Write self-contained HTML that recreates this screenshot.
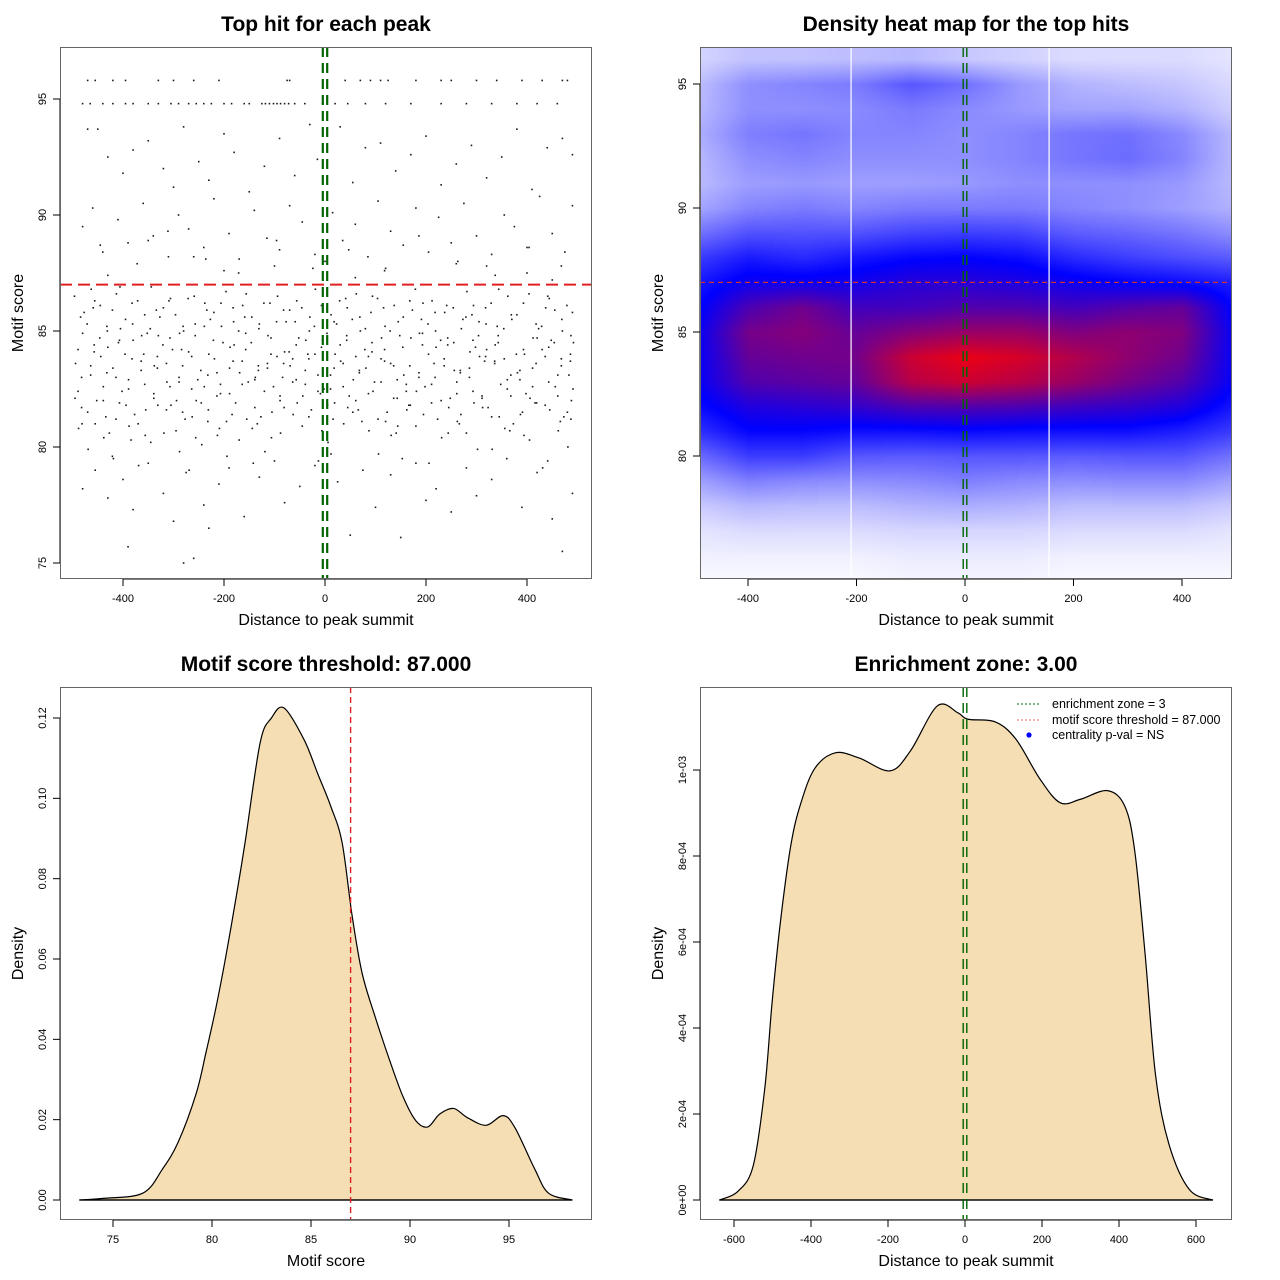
<!DOCTYPE html>
<html><head><meta charset="utf-8"><style>
body{margin:0;background:#fff;width:1280px;height:1280px;position:relative;overflow:hidden;font-family:"Liberation Sans",sans-serif}
#heat{position:absolute;left:700px;top:47px;width:532px;height:532px}
#main{position:absolute;left:0;top:0}
</style></head><body>
<canvas id="heat" width="532" height="532"></canvas>
<svg id="main" width="1280" height="1280" xmlns="http://www.w3.org/2000/svg"></svg>
<script>
// ---------- data ----------
const rowX948=[-480,-465,-440,-420,-395,-380,-350,-330,-305,-290,-270,-255,-240,-225,-200,-185,-160,-150,-125,-118,-110,-102,-95,-88,-80,-72,-60,-40,-5,20,45,80,120,170,230,280,330,380,420,460];
const rowX958=[-470,-455,-420,-395,-330,-300,-260,-210,-75,-70,40,70,90,110,125,180,230,250,300,340,390,430,470,480];
const scatterX=[-470,-450,-430,-400,-380,-350,-320,-300,-280,-250,-230,-200,-180,-150,-120,-90,-60,-30,-15,30,55,80,110,140,170,200,230,260,290,320,350,380,410,440,470,490,
-480,-460,-440,-410,-390,-360,-340,-310,-290,-270,-240,-220,-190,-170,-140,-115,-90,-70,-45,-20,15,35,60,85,105,130,155,180,205,225,250,275,300,330,355,375,400,425,450,475,490,-350,-200,-100,0,120,260,400,-430,-260,60,320,450,
-480,-455,-430,-400,-380,-350,-320,-300,-275,-260,-240,-210,-190,-160,-130,-100,-80,-50,-20,-5,25,50,75,100,130,150,180,200,220,250,280,300,330,360,390,420,450,470,490,-390,-280,-230,
-445,-372,-311,-236,-171,-96,-24,47,118,186,263,337,404,468,-421,-288,-142,12,153,302,441];
const scatterY=[93.7,93.7,92.5,91.8,92.8,93.2,92.0,91.2,93.8,92.3,91.5,93.5,92.7,91.0,92.1,93.3,91.7,93.9,92.4,93.8,91.4,92.9,93.1,91.9,92.6,93.4,91.3,92.2,93.0,91.6,92.5,93.7,91.1,92.9,93.3,92.6,
89.5,90.3,88.4,89.8,88.8,90.5,89.1,88.2,90.0,89.4,88.6,90.7,89.2,88.1,90.2,89.0,88.5,90.4,89.7,88.3,90.1,88.9,89.6,88.2,90.6,89.3,88.7,90.3,88.4,89.9,88.8,90.5,89.1,88.3,90.0,89.5,88.6,90.8,89.2,88.4,90.4,88.9,87.6,87.8,88.0,87.7,87.9,87.5,87.4,88.2,87.3,87.8,87.2,
78.2,79.0,77.8,78.6,77.3,79.3,78.0,76.8,78.9,75.2,77.5,78.4,79.1,77.0,78.7,79.4,77.6,78.3,79.2,77.9,78.5,76.2,79.0,77.4,78.8,76.1,79.3,77.7,78.2,77.2,79.1,77.9,78.6,79.5,77.4,78.9,76.9,75.5,78.0,75.7,75.0,76.5,
88.7,87.9,89.3,88.1,87.5,88.9,87.7,88.5,87.6,89.1,88.0,87.4,88.6,87.8,79.6,79.8,79.3,79.7,79.5,79.9,79.4];
const coreColX=[-490,-465,-440,-415,-390,-365,-340,-315,-290,-265,-240,-215,-190,-165,-140,-115,-90,-65,-40,-15,10,35,60,85,110,135,160,185,210,235,260,285,310,335,360,385,410,435,460,485];
const coreColY=[[86.5,84.2,82.1,80.8,83.6],[85.3,83.1,81.5,86.8,79.9],[84.7,82.6,86.1,80.4,83.9],[85.9,81.2,83.4,86.6,79.5],[84.0,82.9,85.5,80.9,81.8],[86.3,83.7,81.0,84.8,79.2],[85.1,82.3,80.2,83.5,86.9],[84.4,81.6,86.0,82.8,80.6],[85.7,83.0,80.7,84.9,82.0],[86.4,82.5,84.1,81.3,79.0],[83.3,85.2,81.9,86.2,80.1],[84.6,82.2,85.8,80.5,83.8],[86.7,83.4,81.1,84.3,79.6],[85.0,82.7,80.3,86.1,83.2],[84.5,81.7,85.6,83.0,80.8],[86.2,83.6,82.4,84.8,79.8],[85.4,82.0,83.9,80.6,86.5],[84.1,82.8,85.9,81.4,83.5],[86.0,83.3,80.9,84.6,82.2],[85.2,82.4,84.0,79.4,86.8],[84.9,83.1,81.8,85.7,80.2],[86.3,82.6,84.4,81.0,83.7],[85.5,83.9,81.5,86.6,82.9],[84.2,82.3,85.1,80.7,83.4],[86.4,83.8,81.2,84.7,79.7],[85.0,82.1,83.6,86.1,80.5],[84.3,82.7,85.6,81.6,83.1],[86.8,83.2,80.9,84.9,82.4],[85.3,81.9,84.0,86.3,79.3],[84.6,83.5,82.0,85.8,80.4],[86.0,82.8,84.5,81.1,83.3],[85.6,83.0,80.6,84.1,86.7],[84.8,82.2,85.4,81.7,83.9],[86.2,83.6,81.3,84.4,79.9],[85.1,82.5,83.8,86.5,80.8],[84.0,82.9,85.7,81.4,83.2],[86.6,83.4,80.3,84.7,82.1],[85.2,81.8,84.2,86.0,79.1],[84.5,83.1,85.9,80.7,82.6],[86.1,83.7,81.5,84.8,80.0]];
const core2X=[-478,-453,-428,-403,-378,-353,-328,-303,-278,-253,-228,-203,-178,-153,-128,-103,-78,-53,-28,-3,22,47,72,97,122,147,172,197,222,247,272,297,322,347,372,397,422,447,472,490];
const core2Y=[[83.0,85.8,81.0],[84.4,82.0,86.3],[83.2,80.6,85.0],[84.6,82.4,86.9],[83.8,81.4,85.3],[82.7,84.9,80.5],[83.9,85.6,81.8],[82.6,84.2,86.4],[83.5,81.2,85.2],[84.8,82.9,80.4],[83.1,85.5,81.6],[82.3,84.5,86.2],[83.7,81.9,85.4],[84.2,82.8,86.6],[83.3,81.3,85.1],[84.0,82.6,80.4],[83.6,85.4,81.7],[82.9,84.7,86.3],[83.8,81.6,85.0],[84.3,82.5,80.7],[83.4,85.3,81.9],[84.6,82.2,86.0],[83.2,81.1,85.6],[84.1,82.8,86.5],[83.7,81.5,85.2],[82.9,84.8,80.9],[83.5,85.9,81.8],[84.4,82.6,86.2],[83.0,81.2,85.0],[84.7,82.1,80.6],[83.3,85.5,81.4],[82.4,84.3,86.1],[83.9,81.7,85.3],[84.5,82.7,86.8],[83.1,81.0,85.7],[84.2,82.3,80.5],[83.6,85.1,81.9],[82.8,84.6,86.4],[83.8,81.3,85.5],[84.0,82.5,81.2]];
const core3X=[-484,-459,-434,-409,-384,-359,-334,-309,-284,-259,-234,-209,-184,-159,-134,-109,-84,-59,-34,-9,16,41,66,91,116,141,166,191,216,241,266,291,316,341,366,391,416,441,466,488];
const core3Y=[[82.4,84.9,81.7,85.6],[83.5,81.0,84.1,86.0],[82.0,84.3,85.2,81.3],[83.0,85.1,81.9,84.5],[82.5,84.6,86.2,80.3],[83.3,81.6,85.7,84.0],[82.1,84.8,83.4,85.9],[83.6,81.8,84.7,86.3],[82.8,85.0,81.5,84.2],[83.9,82.0,85.3,86.5],[82.6,84.0,81.1,85.9],[83.2,85.2,82.7,80.8],[82.3,84.4,86.0,81.4],[83.7,81.2,84.9,85.6],[82.9,85.3,83.5,81.0],[83.4,81.5,84.7,86.2],[82.2,84.1,85.9,83.0],[83.8,81.9,84.4,85.4],[82.7,85.6,81.3,84.0],[83.1,84.6,86.1,82.3],[82.5,84.0,85.4,81.2],[83.6,81.7,84.8,86.4],[82.0,85.0,83.3,81.6],[83.9,82.4,84.5,85.8],[82.8,81.1,84.2,86.0],[83.5,85.4,82.1,80.6],[82.4,84.7,86.3,81.8],[83.0,81.4,84.9,85.5],[82.7,84.3,85.8,83.6],[83.8,81.7,84.4,86.1],[82.3,85.1,83.2,81.0],[83.4,81.9,84.6,85.7],[82.1,84.2,86.0,83.7],[83.7,81.3,84.8,85.2],[82.9,85.5,82.2,80.7],[83.3,84.0,86.2,81.5],[82.6,84.7,85.3,81.9],[83.9,81.6,84.3,86.5],[82.2,85.0,83.5,81.1],[83.1,84.5,85.8,82.0]];
// heatmap density grid
const heatX=[-500,-400,-300,-200,-100,0,100,200,300,400,500];
const heatY=[96,95,94,93,92,91,90,89,88,87,86,85,84,83,82,81,80,79,78,77,76,75];
const heatZ=[
[.08,.12,.12,.13,.14,.11,.09,.07,.07,.07,.05],
[.12,.22,.24,.26,.33,.28,.20,.15,.13,.11,.07],
[.13,.22,.22,.23,.26,.23,.20,.18,.18,.15,.09],
[.15,.25,.27,.24,.24,.22,.24,.27,.28,.23,.13],
[.13,.22,.24,.22,.22,.22,.24,.27,.29,.24,.13],
[.13,.19,.20,.19,.19,.20,.22,.22,.22,.20,.13],
[.17,.24,.26,.24,.26,.26,.26,.24,.22,.19,.15],
[.27,.34,.34,.34,.37,.38,.37,.32,.30,.27,.22],
[.38,.45,.42,.46,.49,.50,.48,.42,.38,.35,.32],
[.45,.53,.53,.54,.58,.58,.56,.53,.50,.48,.44],
[.48,.65,.72,.63,.63,.66,.66,.63,.67,.70,.48],
[.50,.73,.76,.70,.76,.80,.80,.75,.78,.75,.50],
[.50,.70,.72,.73,.90,.96,.92,.85,.78,.72,.50],
[.50,.66,.68,.70,.86,.90,.86,.80,.73,.66,.50],
[.47,.56,.58,.60,.65,.66,.65,.62,.60,.56,.45],
[.40,.49,.49,.47,.47,.48,.47,.47,.47,.44,.38],
[.28,.38,.38,.33,.32,.33,.33,.32,.33,.33,.27],
[.18,.25,.23,.22,.23,.25,.23,.22,.23,.23,.18],
[.10,.14,.13,.13,.15,.16,.15,.13,.13,.13,.10],
[.05,.07,.07,.07,.08,.08,.08,.07,.07,.07,.05],
[.03,.03,.03,.03,.04,.04,.04,.03,.03,.03,.03],
[.01,.01,.01,.01,.02,.02,.02,.01,.01,.01,.01]];
const heatVLines=[-210,155];
// motif score density
const scoreX=[73.3,74.5,76.5,77.5,78.3,79.2,79.7,80.2,80.7,81.24,81.67,82.43,83.0,83.64,84.65,85.35,86.0,86.57,87.07,87.58,88.26,88.95,89.65,90.3,90.9,91.5,92.2,92.9,93.84,94.7,95.3,96.3,97.0,98.2];
const scoreD=[0,0.0004,0.0017,0.0077,0.0145,0.0265,0.0368,0.0479,0.0607,0.076,0.089,0.1138,0.120,0.1225,0.1146,0.106,0.098,0.089,0.071,0.0565,0.0453,0.0351,0.0257,0.0197,0.0182,0.0214,0.0228,0.0205,0.0186,0.021,0.018,0.0077,0.0017,0];
// distance density (x1e-4)
const distX=[-638,-590,-550,-520,-501,-479,-452,-426,-390,-337,-275,-195,-142,-72,-18.5,8,78,132,194,247,300,370,415,441,468,495,530,583,644];
const distD=[0,0.2,0.8,2.6,4.6,6.5,8.27,9.24,10.04,10.4,10.28,9.98,10.44,11.49,11.33,11.18,11.12,10.72,9.8,9.24,9.32,9.52,9.16,8.11,5.7,2.9,1.29,0.24,0];
const p1XTicks=[-400,-200,0,200,400], p1YTicks=[75,80,85,90,95];
const p2YTicks=[80,85,90,95];
const p3XTicks=[75,80,85,90,95], p3YTicks=[0,0.02,0.04,0.06,0.08,0.10,0.12], p3YLabels=["0.00","0.02","0.04","0.06","0.08","0.10","0.12"];
const p4XTicks=[-600,-400,-200,0,200,400,600], p4YTicks=[0,2,4,6,8,10], p4YLabels=["0e+00","2e-04","4e-04","6e-04","8e-04","1e-03"];
const threshold=87, zoneCenter=0;

// ---------- helpers ----------
const NS="http://www.w3.org/2000/svg", svg=document.getElementById('main');
function mk(tag,attrs,parent){const e=document.createElementNS(NS,tag);for(const k in attrs)e.setAttribute(k,attrs[k]);(parent||svg).appendChild(e);return e;}
function lin(d0,d1,r0,r1){return v=>r0+(v-d0)*(r1-r0)/(d1-d0);}
function txt(x,y,s,size,opts,parent){const t=mk('text',Object.assign({x:x,y:y,'font-size':size,'text-anchor':'middle','font-family':'Liberation Sans, sans-serif',fill:'#000'},opts||{}),parent);t.textContent=s;return t;}
function panel(name,L,T,R,B,sx,sy,xt,xl,yt,yl,title,xlab,ylab){
  const g=mk('g',{});
  
  
  const tt=txt((L+R)/2,T-16,title,21,{'font-weight':'bold'},g);
  
  
  const ax=mk('g',{stroke:'#000','stroke-width':1},g);
  
  
  mk('line',{x1:sx(xt[0]),x2:sx(xt[xt.length-1]),y1:B,y2:B},ax);
  xt.forEach((v,i)=>{mk('line',{x1:sx(v),x2:sx(v),y1:B,y2:B+7},ax);
    const l=txt(sx(v),B+23,xl[i],11,{stroke:'none'},g);
    
    });
  const ay=mk('g',{stroke:'#000','stroke-width':1},g);
  
  
  mk('line',{x1:L,x2:L,y1:sy(yt[0]),y2:sy(yt[yt.length-1])},ay);
  yt.forEach((v,i)=>{mk('line',{x1:L,x2:L-7,y1:sy(v),y2:sy(v)},ay);
    const l=txt(0,0,yl[i],11,{transform:`translate(${L-14},${sy(v)}) rotate(-90)`},g);
    
    });
  const xa=txt((L+R)/2,B+46,xlab,16,{},g);
  
  
  const ya=txt(0,0,ylab,16,{transform:`translate(${L-37},${(T+B)/2}) rotate(-90)`},g);
  
  
  return g;
}
function box(L,T,R,B,g){const b=mk('rect',{x:L+0.5,y:T+0.5,width:R-L-1,height:B-T-1,fill:'none',stroke:'#666','stroke-width':1},g);
  
  }
function smoothPath(pts){let d=`M${pts[0][0]},${pts[0][1]}`;
  for(let i=0;i<pts.length-1;i++){const p0=pts[Math.max(0,i-1)],p1=pts[i],p2=pts[i+1],p3=pts[Math.min(pts.length-1,i+2)];
    const c1=[p1[0]+(p2[0]-p0[0])/6,p1[1]+(p2[1]-p0[1])/6],c2=[p2[0]-(p3[0]-p1[0])/6,p2[1]-(p3[1]-p1[1])/6];
    d+=` C${c1[0]},${c1[1]} ${c2[0]},${c2[1]} ${p2[0]},${p2[1]}`;}
  return d;}
function greenDouble(x,T,B,g,w,gap){[-gap,gap].forEach(o=>{const l=mk('line',{x1:x+o,x2:x+o,y1:T,y2:B,stroke:'#006400','stroke-width':w,'stroke-dasharray':'10 6'},g);
  
  });}

// ---------- panel 1 ----------
{const L=60,T=47,R=592,B=579;
 const sx=lin(0,400,325,527), sy=lin(85,95,331,99);
 const g=panel('panel-top-hits',L,T,R,B,sx,sy,p1XTicks,p1XTicks.map(String),p1YTicks,p1YTicks.map(String),'Top hit for each peak','Distance to peak summit','Motif score');
 const pg=mk('g',{fill:'#1a1a1a'},g);
 
 
 function dot(x,y){const r=mk('rect',{x:sx(x)-0.8,y:sy(y)-0.8,width:1.6,height:1.6},pg);
   
   }
 rowX948.forEach(x=>dot(x,94.8));
 rowX958.forEach(x=>dot(x,95.8));
 scatterX.forEach((x,i)=>dot(x,scatterY[i]));
 coreColX.forEach((x,i)=>coreColY[i].forEach((y,j)=>dot(x+(j*7%13)-6,y)));
 core2X.forEach((x,i)=>core2Y[i].forEach((y,j)=>dot(x+(j*5%9)-4,y)));
 core3X.forEach((x,i)=>core3Y[i].forEach((y,j)=>dot(x+(j*9%11)-5,y)));
 const th=mk('line',{x1:L,x2:R,y1:sy(threshold),y2:sy(threshold),stroke:'#e02020','stroke-width':2,'stroke-dasharray':'12 6'},g);
 
 
 greenDouble(sx(zoneCenter),T,B,g,2.2,2.2);
 box(L,T,R,B,g);}

// ---------- panel 2 ----------
{const L=700,T=47,R=1232,B=579;
 const sx=lin(0,400,965,1182), sy=lin(85,95,332,84);
 const cv=document.getElementById('heat'),ctx=cv.getContext('2d');
 const img=ctx.createImageData(532,532);
 function interp(arr,v){for(let i=0;i<arr.length-1;i++){const a=arr[i],b=arr[i+1];if((v-a)*(v-b)<=0)return i+(v-a)/(b-a);}return v<arr[0]===arr[0]<arr[1]?0:arr.length-1;}
 for(let py=0;py<532;py++){const yv=85+(T+py-332)*(95-85)/(84-332);let fy=interp(heatY,yv);fy=Math.max(0,Math.min(heatY.length-1.001,fy));
  const iy=Math.floor(fy),ty=fy-iy;
  for(let px=0;px<532;px++){const xv=(L+px-965)*400/(1182-965);let fx=interp(heatX,xv);fx=Math.max(0,Math.min(heatX.length-1.001,fx));
   const ix=Math.floor(fx),tx=fx-ix;
   const z=(heatZ[iy][ix]*(1-tx)+heatZ[iy][ix+1]*tx)*(1-ty)+(heatZ[iy+1][ix]*(1-tx)+heatZ[iy+1][ix+1]*tx)*ty;
   let r,gg,b;if(z<0.5){const t=z/0.5;r=255*(1-t);gg=255*(1-t);b=255;}else{const t=Math.min(1,(z-0.5)/0.5);r=255*t;gg=0;b=255*(1-t);}
   const k=(py*532+px)*4;img.data[k]=r;img.data[k+1]=gg;img.data[k+2]=b;img.data[k+3]=255;}}
 ctx.putImageData(img,0,0);
 const g=panel('panel-density-heatmap',L,T,R,B,sx,sy,p1XTicks,p1XTicks.map(String),p2YTicks,p2YTicks.map(String),'Density heat map for the top hits','Distance to peak summit','Motif score');
 heatVLines.forEach(v=>{const l=mk('line',{x1:sx(v),x2:sx(v),y1:T,y2:B,stroke:'#fff','stroke-width':1.2},g);
   
   });
 const th=mk('line',{x1:L,x2:R,y1:sy(threshold),y2:sy(threshold),stroke:'#d03030','stroke-width':1.2,'stroke-dasharray':'5 4'},g);
 
 
 greenDouble(sx(zoneCenter),T,B,g,1.4,1.8);
 box(L,T,R,B,g);}

// ---------- panel 3 ----------
{const L=60,T=687,R=592,B=1220;
 const sx=lin(75,95,113,509), sy=lin(0,0.12,1200,718);
 const g=panel('panel-score-density',L,T,R,B,sx,sy,p3XTicks,p3XTicks.map(String),p3YTicks,p3YLabels,'Motif score threshold: 87.000','Motif score','Density');
 const pts=scoreX.map((x,i)=>[sx(x),sy(scoreD[i])]);
 const a=mk('path',{d:smoothPath(pts)+' Z',fill:'#f5deb3',stroke:'#000','stroke-width':1.2},g);
 
 
 const bl=mk('line',{x1:pts[0][0],x2:pts[pts.length-1][0],y1:sy(0),y2:sy(0),stroke:'#000','stroke-width':1.2},g);
 
 
 const th=mk('line',{x1:sx(threshold),x2:sx(threshold),y1:T,y2:B,stroke:'#e02020','stroke-width':1.4,'stroke-dasharray':'6 4'},g);
 
 
 box(L,T,R,B,g);}

// ---------- panel 4 ----------
{const L=700,T=687,R=1232,B=1220;
 const sx=lin(0,400,965,1119), sy=lin(0,10,1200,770);
 const g=panel('panel-distance-density',L,T,R,B,sx,sy,p4XTicks,p4XTicks.map(String),p4YTicks,p4YLabels,'Enrichment zone: 3.00','Distance to peak summit','Density');
 const pts=distX.map((x,i)=>[sx(x),sy(distD[i])]);
 const a=mk('path',{d:smoothPath(pts)+' Z',fill:'#f5deb3',stroke:'#000','stroke-width':1.2},g);
 
 
 const bl=mk('line',{x1:pts[0][0],x2:pts[pts.length-1][0],y1:sy(0),y2:sy(0),stroke:'#000','stroke-width':1.2},g);
 
 
 greenDouble(sx(zoneCenter),T,B,g,1.4,1.8);
 const lg=mk('g',{},g);
 
 
 mk('line',{x1:1017,x2:1041,y1:704,y2:704,stroke:'#006400','stroke-width':1,'stroke-dasharray':'2 2'},lg);
 mk('line',{x1:1017,x2:1041,y1:720,y2:720,stroke:'#ff6060','stroke-width':1,'stroke-dasharray':'2 2'},lg);
 mk('circle',{cx:1029,cy:735,r:2.6,fill:'#0000ff'},lg);
 [['enrichment zone = 3',708],['motif score threshold = 87.000',724],['centrality p-val = NS',739]].forEach(([s,y])=>{const t=txt(1052,y,s,12.5,{'text-anchor':'start'},lg);
   
   });
 box(L,T,R,B,g);}
</script>
</body></html>
